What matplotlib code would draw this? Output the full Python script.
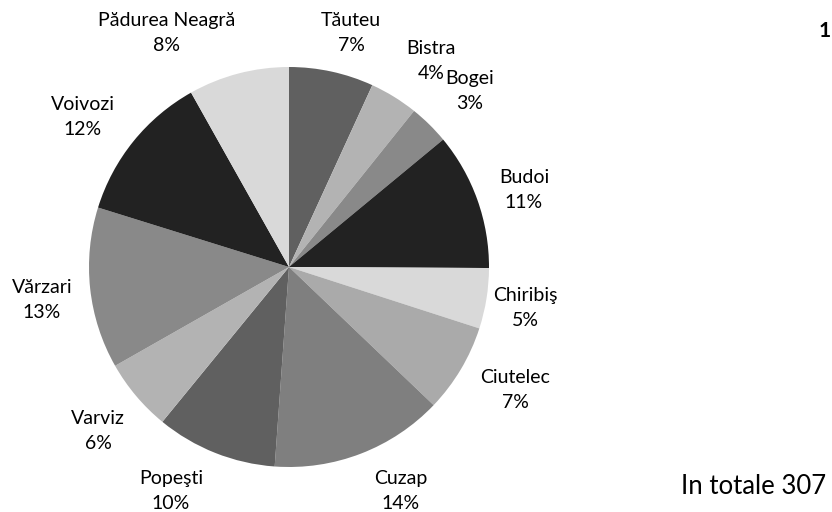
import matplotlib
matplotlib.use("Agg")
import matplotlib.pyplot as plt

plt.rcParams['font.family'] = ['Lato', 'DejaVu Sans']

names = ['Tăuteu', 'Bistra', 'Bogei', 'Budoi', 'Chiribiş', 'Ciutelec',
         'Cuzap', 'Popeşti', 'Varviz', 'Vărzari', 'Voivozi', 'Pădurea Neagră']
counts = [21, 12, 10, 34, 15, 22, 43, 30, 18, 40, 37, 25]
colors = ['#606060', '#b3b3b3', '#898989', '#222222', '#d9d9d9', '#aaaaaa',
          '#7f7f7f', '#606060', '#b3b3b3', '#898989', '#222222', '#d9d9d9']
# label centres, in pie radii from the centre (Excel nudges them around)
label_pos = [(0.31, 1.17), (0.71, 1.03), (0.905, 0.88), (1.175, 0.385),
             (1.18, -0.205), (1.13, -0.615), (0.56, -1.12), (-0.59, -1.12),
             (-0.955, -0.82), (-1.235, -0.165), (-1.03, 0.75), (-0.61, 1.17)]
total = sum(counts)

fig = plt.figure(figsize=(8.32, 5.12), dpi=100)
ax = fig.add_axes([89 / 832, 45 / 512, 400 / 832, 400 / 512])
ax.pie(counts, colors=colors, startangle=90, counterclock=False, radius=1,
       wedgeprops={'linewidth': 0})
ax.set_xlim(-1, 1)
ax.set_ylim(-1, 1)
ax.axis('off')

for name, c, (x, y) in zip(names, counts, label_pos):
    pct = round(100 * c / total)
    ax.text(x, y, f"{name}\n{pct}%", ha='center', va='center', fontsize=14,
            linespacing=1.6, color='#000000', clip_on=False)

fig.text(819 / 832, 1 - 31 / 512, "1", fontsize=15, fontweight='bold',
         ha='left', va='center')
fig.text(681 / 832, 1 - 486 / 512, "In totale 307", fontsize=18.5,
         ha='left', va='center')

fig.savefig("out.png", dpi=100)
